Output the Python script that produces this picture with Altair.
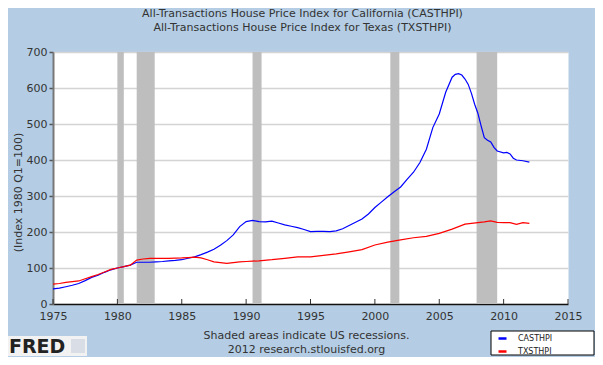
import altair as alt
import pandas as pd

# ---- data ----
ca_years = [1975.0, 1975.5, 1976.0, 1976.5, 1977.0, 1977.5, 1978.0, 1978.5, 1979.0, 1979.5,
            1980.0, 1980.5, 1981.0, 1981.5, 1982.0, 1982.5, 1983.0, 1983.5, 1984.0, 1984.5,
            1985.0, 1985.5, 1986.0, 1986.5, 1987.0, 1987.5, 1988.0, 1988.5, 1989.0, 1989.5,
            1990.0, 1990.5, 1991.0, 1991.5, 1992.0, 1992.5, 1993.0, 1993.5, 1994.0, 1994.5,
            1995.0, 1995.5, 1996.0, 1996.5, 1997.0, 1997.5, 1998.0, 1998.5, 1999.0, 1999.5,
            2000.0, 2000.5, 2001.0, 2001.5, 2002.0, 2002.5, 2003.0, 2003.5, 2004.0, 2004.5,
            2005.0, 2005.5, 2006.0, 2006.25, 2006.5, 2006.75, 2007.0, 2007.25, 2007.5, 2007.75,
            2008.0, 2008.25, 2008.5, 2008.75, 2009.0, 2009.25, 2009.5, 2010.0, 2010.25, 2010.5,
            2010.75, 2011.0, 2011.5, 2012.0]
ca_values = [42, 44, 48, 52, 57, 65, 74, 80, 88, 95,
             100, 104, 108, 116, 116, 116, 117, 118, 120, 121,
             123, 127, 131, 137, 144, 152, 163, 176, 192, 215,
             229, 232, 229, 228, 230, 225, 220, 216, 212, 207,
             201, 202, 202, 201, 203, 209, 218, 227, 236, 250,
             268, 283, 298, 312, 325, 346, 366, 393, 430, 490,
             528, 588, 630, 638, 640, 636, 625, 610, 585, 555,
             530, 495, 462, 455, 450, 435, 425, 420, 421, 417,
             405, 400, 398, 394]

tx_years = [1975.0, 1975.5, 1976.0, 1976.5, 1977.0, 1977.5, 1978.0, 1978.5, 1979.0, 1979.5,
            1980.0, 1980.5, 1981.0, 1981.5, 1982.0, 1982.5, 1983.0, 1984.0, 1985.0, 1985.5,
            1986.0, 1986.5, 1987.0, 1987.5, 1988.0, 1988.5, 1989.0, 1989.5, 1990.0, 1990.5,
            1991.0, 1992.0, 1993.0, 1994.0, 1995.0, 1996.0, 1997.0, 1998.0, 1999.0, 2000.0,
            2001.0, 2002.0, 2003.0, 2004.0, 2005.0, 2006.0, 2007.0, 2008.0, 2008.5, 2009.0,
            2009.5, 2010.0, 2010.5, 2011.0, 2011.5, 2012.0]
tx_values = [55, 57, 60, 62, 64, 70, 76, 82, 89, 96,
             100, 104, 108, 122, 125, 127, 127, 127, 128, 129,
             130, 128, 123, 117, 115, 113, 115, 117, 118, 119,
             120, 123, 127, 131, 131, 135, 139, 145, 151, 164,
             172, 178, 184, 188, 196, 208, 222, 226, 228, 231,
             227, 226, 226, 221, 226, 224]

series_names = ["CASTHPI", "TXSTHPI"]
series_colors = ["#0000ff", "#ff0000"]

rec_start = [1980.0, 1981.5, 1990.5, 2001.2, 2007.9]
rec_end = [1980.5, 1982.9, 1991.2, 2001.9, 2009.5]

x_ticks = [1975, 1980, 1985, 1990, 1995, 2000, 2005, 2010, 2015]
y_ticks = [0, 100, 200, 300, 400, 500, 600, 700]

titles = ["All-Transactions House Price Index for California (CASTHPI)",
          "All-Transactions House Price Index for Texas (TXSTHPI)"]
y_title = "(Index 1980 Q1=100)"
notes = ["Shaded areas indicate US recessions.", "2012 research.stlouisfed.org"]

# ---- tables ----
lines_df = pd.concat([
    pd.DataFrame({"year": ca_years, "value": ca_values, "series": series_names[0]}),
    pd.DataFrame({"year": tx_years, "value": tx_values, "series": series_names[1]}),
])
rec_df = pd.DataFrame({"start": rec_start, "end": rec_end})
ticks_df = pd.DataFrame({"year": x_ticks})

W, H = 515, 252
FONT = "DejaVu Sans"
TXT = "#333333"
FS = 11

xscale = alt.Scale(domain=[1975, 2015], nice=False, zero=False)
yscale = alt.Scale(domain=[0, 700], nice=False)

xaxis = alt.Axis(values=x_ticks, format="d", tickSize=0, labelPadding=6, grid=False,
                 domainColor="#111111", domainWidth=1.5, labelFont=FONT, labelFontSize=FS,
                 labelColor=TXT, labelFlush=False,
                 title=notes, titleFont=FONT, titleFontSize=FS, titleFontWeight="normal",
                 titleColor=TXT, titleX=253, titleY=25, titleBaseline="top",
                 titleLineHeight=14, titleAlign="center")
yaxis = alt.Axis(values=y_ticks, tickSize=4, tickColor="#555555", tickWidth=1.5,
                 labelPadding=2, grid=True, gridColor="#d4d4d4", gridWidth=1.5,
                 domainColor="#777777", domainWidth=2, labelFont=FONT, labelFontSize=FS,
                 labelColor=TXT,
                 title=y_title, titleFont=FONT, titleFontSize=FS, titleFontWeight="normal",
                 titleColor=TXT, titleX=-35, titleY=140, titleAlign="center",
                 titleBaseline="middle", titleAngle=270)

rec = alt.Chart(rec_df).mark_rect(color="#bebebe").encode(
    x=alt.X("start:Q", scale=xscale, axis=xaxis),
    x2="end:Q",
)

lines = alt.Chart(lines_df).mark_line(strokeWidth=1.2, interpolate="linear").encode(
    x=alt.X("year:Q", scale=xscale, axis=xaxis),
    y=alt.Y("value:Q", scale=yscale, axis=yaxis),
    color=alt.Color("series:N",
                    scale=alt.Scale(domain=series_names, range=series_colors),
                    legend=alt.Legend(title=None, orient="none", legendX=444, legendY=281,
                                      padding=0, direction="vertical", symbolType="stroke",
                                      symbolSize=64, symbolStrokeWidth=2.5,
                                      labelFont=FONT, labelFontSize=8, labelColor="#222222",
                                      labelOffset=10, rowPadding=2)),
)

ticks = alt.Chart(ticks_df).mark_rule(color="#333333", strokeWidth=1).encode(
    x=alt.X("year:Q", scale=xscale),
    y=alt.value(H - 5),
    y2=alt.value(H),
)

legend_box = alt.Chart(rec_df.head(1)).mark_rect(fill="white", stroke="black",
                                                  strokeWidth=1).encode(
    x=alt.value(438), x2=alt.value(541), y=alt.value(279), y2=alt.value(303))

logo_box = alt.Chart(rec_df.head(1)).mark_rect(fill="#f2f2f2").encode(
    x=alt.value(-45), x2=alt.value(34), y=alt.value(284), y2=alt.value(304))
logo_icon = alt.Chart(rec_df.head(1)).mark_rect(fill="#d9dde6").encode(
    x=alt.value(18), x2=alt.value(32), y=alt.value(287), y2=alt.value(301))
logo_text = alt.Chart(rec_df.head(1)).mark_text(
    text="FRED", font=FONT, fontSize=19, fontWeight="bold", color="#222222",
    align="left", baseline="alphabetic").encode(x=alt.value(-44), y=alt.value(301))

chart = alt.layer(rec, lines, ticks, legend_box, logo_box, logo_icon, logo_text).properties(
    width=W, height=H,
    title=alt.TitleParams(text=titles, font=FONT, fontSize=FS, fontWeight="normal",
                          color=TXT, anchor="middle", dx=-8, offset=13, lineHeight=14),
    background="#b4cde4",
    padding={"left": 45, "top": 44, "right": 27, "bottom": 53},
    autosize=alt.AutoSizeParams(type="none"),
).configure_view(fill="white", stroke="transparent")

chart.save("out.html", embed_options={"renderer": "svg", "actions": False})
